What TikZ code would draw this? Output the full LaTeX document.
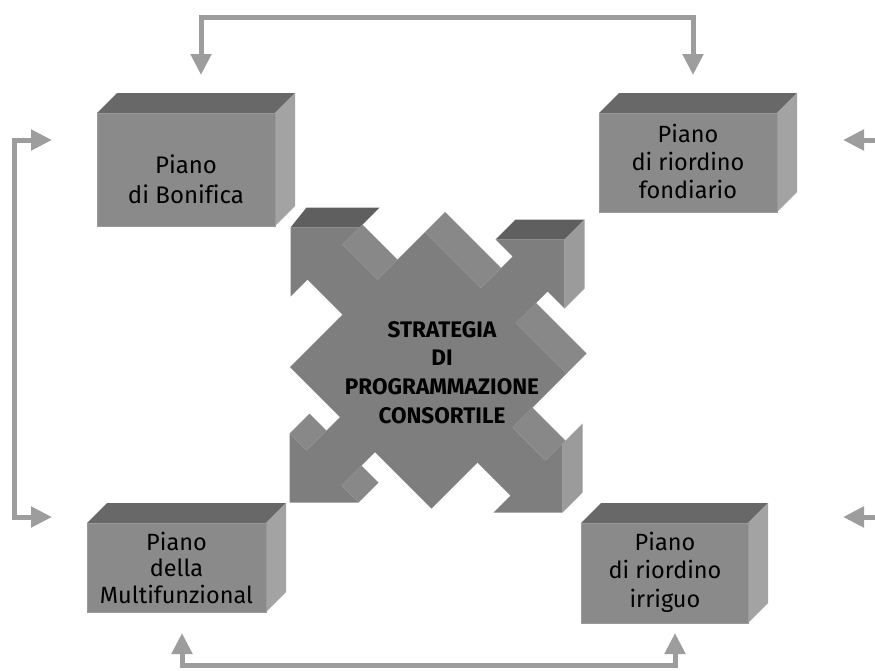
\documentclass[tikz,border=0pt]{standalone}
\usepackage{fontspec}
\setmainfont[Ligatures=NoCommon]{Fira Sans}
\usetikzlibrary{arrows.meta,backgrounds}

\definecolor{boxfront}{HTML}{8A8A8A}
\definecolor{boxtop}{HTML}{686868}
\definecolor{boxside}{HTML}{A3A3A3}
\definecolor{boxedge}{HTML}{9A9A9A}
\definecolor{xfront}{HTML}{7E7E7E}
\definecolor{xtop}{HTML}{5F5F5F}
\definecolor{xside}{HTML}{9B9B9B}
\definecolor{xdiag}{HTML}{888888}
\definecolor{connc}{HTML}{9D9D9D}

% multi-line centred label, first baseline on the node's base anchor
\newcommand\stackedtext[3]{\fontsize{#1}{#2}\selectfont\begin{tabular}[t]{@{}c@{}}#3\end{tabular}}

% top and right faces of an extruded box drawn behind its front node
\newcommand\boxfaces[1]{%
  \begin{pgfonlayer}{background}
    \fill[boxtop] (#1.north west) -- ([shift={(20,-20)}]#1.north west)
      -- ([shift={(20,-20)}]#1.north east) -- (#1.north east) -- cycle;
    \fill[boxside] (#1.north east) -- ([shift={(20,-20)}]#1.north east)
      -- ([shift={(20,-20)}]#1.south east) -- (#1.south east) -- cycle;
  \end{pgfonlayer}}

\begin{document}
\begin{tikzpicture}[x=1pt,y=-1pt,
  >={Triangle[length=21pt,width=20pt]},
  conn/.style={draw=connc, line width=5pt},
  boxface/.style={rectangle, anchor=north west, fill=boxfront, draw=boxedge,
    line width=0.8pt, inner sep=0pt, outer sep=0pt},
  lbl/.style={anchor=base, inner sep=0pt, text=black}]

\useasboundingbox (0,0) rectangle (875,670);

% ---------- the four plans ----------
\node[boxface, minimum width=178pt, minimum height=113pt] (bonifica) at (97,113) {};
\node[boxface, minimum width=178pt, minimum height=99pt]  (fondiario) at (599,113) {};
\node[boxface, minimum width=179pt, minimum height=89pt]  (multi) at (87,523) {};
\node[boxface, minimum width=167pt, minimum height=100pt] (irriguo) at (581,523) {};
\boxfaces{bonifica}
\boxfaces{fondiario}
\boxfaces{multi}
\boxfaces{irriguo}

\node[lbl] (tbonifica) at (186,173) {\stackedtext{24}{30}{Piano\\di Bonifica}};
\node[lbl] (tfondiario) at (688,142) {\stackedtext{23.5}{28}{Piano\\di riordino\\fondiario}};
\node[lbl] (tmulti) at (176.5,550) {\stackedtext{23.5}{26.5}{Piano\\della\\Multifunzional}};
\node[lbl] (tirriguo) at (665,550) {\stackedtext{23.5}{28.5}{Piano\\di riordino\\irriguo}};

% ---------- central four-way arrow: visible side faces ----------
\fill[xtop]  (290.5,227.5) -- (359.5,227.5) -- (379.5,207.5) -- (306.5,207.5) -- cycle;
\fill[xdiag] (342.5,244.5) -- (377.5,279.5) -- (397.5,259.5) -- (362.5,224.5) -- cycle;
\fill[xtop]  (495.5,239.5) -- (564.5,239.5) -- (584.5,219.5) -- (515.5,219.5) -- cycle;
\fill[xside] (564.5,239.5) -- (564.5,308.5) -- (584.5,288.5) -- (584.5,219.5) -- cycle;
\fill[xdiag] (425,232) -- (481,288) -- (501,268) -- (445,212) -- cycle;
\fill[xdiag] (516,323) -- (566.5,373.5) -- (586.5,353.5) -- (536,303) -- cycle;
\fill[xside] (562.5,443.5) -- (562.5,512.5) -- (582.5,492.5) -- (582.5,423.5) -- cycle;
\fill[xdiag] (512.5,427.5) -- (545.5,460.5) -- (565.5,440.5) -- (532.5,407.5) -- cycle;
\fill[xdiag] (289.5,433.5) -- (306.5,450.5) -- (326.5,430.5) -- (309.5,413.5) -- cycle;
\fill[xdiag] (341.5,485.5) -- (358.5,502.5) -- (378.5,482.5) -- (361.5,465.5) -- cycle;

% ---------- central four-way arrow: front face ----------
\fill[xfront] (425,232) -- (566.5,373.5) -- (431.5,508.5) -- (290,367) -- cycle;
\fill[xfront] (290.5,227.5) -- (359.5,227.5) -- (342.5,244.5) -- (399,301)
  -- (364,336) -- (307.5,279.5) -- (290.5,296.5) -- cycle;
\fill[xfront] (564.5,239.5) -- (564.5,308.5) -- (547.5,291.5) -- (494.5,344.5)
  -- (459.5,309.5) -- (512.5,256.5) -- (495.5,239.5) -- cycle;
\fill[xfront] (562.5,512.5) -- (493.5,512.5) -- (510.5,495.5) -- (457.5,442.5)
  -- (492.5,407.5) -- (545.5,460.5) -- (562.5,443.5) -- cycle;
\fill[xfront] (289.5,502.5) -- (289.5,433.5) -- (306.5,450.5) -- (358.5,398.5)
  -- (393.5,433.5) -- (341.5,485.5) -- (358.5,502.5) -- cycle;

\node[lbl] (strategia) at (442,337)
  {\stackedtext{22.5}{28.7}{\bfseries STRATEGIA\\\bfseries DI\\\bfseries PROGRAMMAZIONE\\\bfseries CONSORTILE}};

% ---------- connectors ----------
\coordinate (toptipl) at (201,75);
\coordinate (toptipr) at (693,75);
\coordinate (topbar) at (0,17);
\draw[conn,<->] (toptipl) -- (toptipl |- topbar) -- (toptipr |- topbar) -- (toptipr);

\coordinate (bottipl) at (182,633);
\coordinate (bottipr) at (675,633);
\coordinate (botbar) at (0,665);
\draw[conn,<->] (bottipl) -- (bottipl |- botbar) -- (bottipr |- botbar) -- (bottipr);

\coordinate (lefttipu) at (52,140);
\coordinate (lefttipd) at (52,517);
\coordinate (leftbar) at (14,0);
\draw[conn,<->] (lefttipu) -- (leftbar |- lefttipu) -- (leftbar |- lefttipd) -- (lefttipd);

\coordinate (rightstartu) at (877,140);
\coordinate (righttipu) at (843,140);
\coordinate (rightstartd) at (877,517);
\coordinate (righttipd) at (843,517);
\draw[conn,->] (rightstartu) -- (righttipu);
\draw[conn,->] (rightstartd) -- (righttipd);

\end{tikzpicture}
\end{document}
